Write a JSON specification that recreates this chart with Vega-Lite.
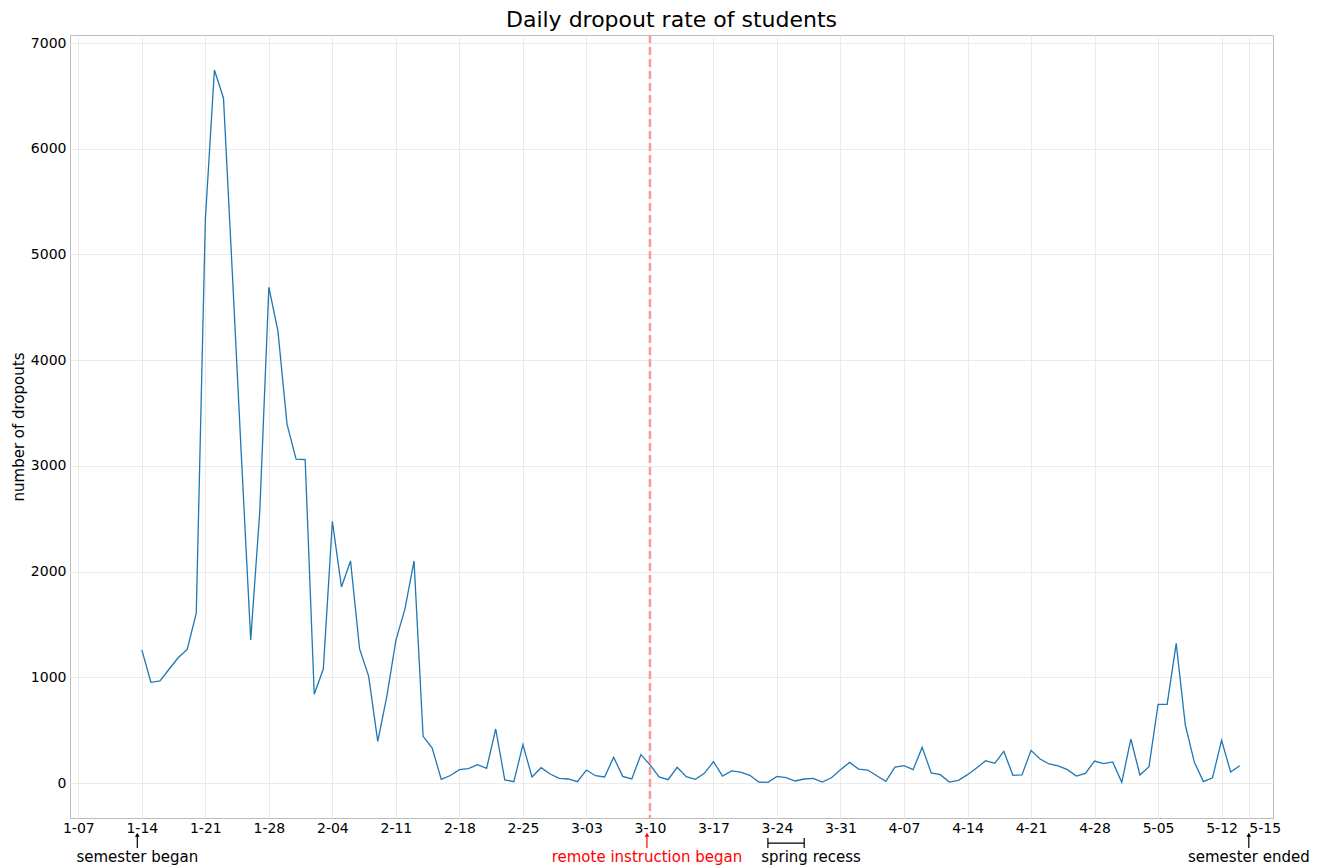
{
  "$schema": "https://vega.github.io/schema/vega-lite/v6.json",
  "autosize": {"type": "none"},
  "padding": {"left": 70, "top": 35, "right": 44, "bottom": 50},
  "width": 1203,
  "height": 783,
  "background": "white",
  "title": {"text": "Daily dropout rate of students", "font": "DejaVu Sans", "fontSize": 22, "fontWeight": "normal", "color": "#000000", "anchor": "middle", "offset": 2},
  "config": {
    "view": {"stroke": "#bcbcbc", "strokeWidth": 1},
    "axis": {"labelFont": "DejaVu Sans", "titleFont": "DejaVu Sans", "labelColor": "#000000", "titleColor": "#000000", "gridColor": "#ebebeb", "gridWidth": 1, "domain": false, "ticks": false}
  },
  "datasets": {
    "dropouts": [
      {"date": "2020-01-14", "dropouts": 1260}, {"date": "2020-01-15", "dropouts": 953}, {"date": "2020-01-16", "dropouts": 967},
      {"date": "2020-01-17", "dropouts": 1076}, {"date": "2020-01-18", "dropouts": 1185}, {"date": "2020-01-19", "dropouts": 1264},
      {"date": "2020-01-20", "dropouts": 1607}, {"date": "2020-01-21", "dropouts": 5330}, {"date": "2020-01-22", "dropouts": 6745},
      {"date": "2020-01-23", "dropouts": 6478}, {"date": "2020-01-24", "dropouts": 4780}, {"date": "2020-01-25", "dropouts": 3040},
      {"date": "2020-01-26", "dropouts": 1354}, {"date": "2020-01-27", "dropouts": 2570}, {"date": "2020-01-28", "dropouts": 4690},
      {"date": "2020-01-29", "dropouts": 4274}, {"date": "2020-01-30", "dropouts": 3395}, {"date": "2020-01-31", "dropouts": 3063},
      {"date": "2020-02-01", "dropouts": 3060}, {"date": "2020-02-02", "dropouts": 839}, {"date": "2020-02-03", "dropouts": 1078},
      {"date": "2020-02-04", "dropouts": 2475}, {"date": "2020-02-05", "dropouts": 1855}, {"date": "2020-02-06", "dropouts": 2101},
      {"date": "2020-02-07", "dropouts": 1268}, {"date": "2020-02-08", "dropouts": 1009}, {"date": "2020-02-09", "dropouts": 394},
      {"date": "2020-02-10", "dropouts": 820}, {"date": "2020-02-11", "dropouts": 1350}, {"date": "2020-02-12", "dropouts": 1647},
      {"date": "2020-02-13", "dropouts": 2101}, {"date": "2020-02-14", "dropouts": 442}, {"date": "2020-02-15", "dropouts": 331},
      {"date": "2020-02-16", "dropouts": 35}, {"date": "2020-02-17", "dropouts": 71}, {"date": "2020-02-18", "dropouts": 126},
      {"date": "2020-02-19", "dropouts": 137}, {"date": "2020-02-20", "dropouts": 173}, {"date": "2020-02-21", "dropouts": 139},
      {"date": "2020-02-22", "dropouts": 511}, {"date": "2020-02-23", "dropouts": 30}, {"date": "2020-02-24", "dropouts": 13},
      {"date": "2020-02-25", "dropouts": 363}, {"date": "2020-02-26", "dropouts": 57}, {"date": "2020-02-27", "dropouts": 145},
      {"date": "2020-02-28", "dropouts": 85}, {"date": "2020-02-29", "dropouts": 44}, {"date": "2020-03-01", "dropouts": 38},
      {"date": "2020-03-02", "dropouts": 13}, {"date": "2020-03-03", "dropouts": 123}, {"date": "2020-03-04", "dropouts": 69},
      {"date": "2020-03-05", "dropouts": 57}, {"date": "2020-03-06", "dropouts": 243}, {"date": "2020-03-07", "dropouts": 63},
      {"date": "2020-03-08", "dropouts": 38}, {"date": "2020-03-09", "dropouts": 268}, {"date": "2020-03-10", "dropouts": 173},
      {"date": "2020-03-11", "dropouts": 57}, {"date": "2020-03-12", "dropouts": 32}, {"date": "2020-03-13", "dropouts": 148},
      {"date": "2020-03-14", "dropouts": 60}, {"date": "2020-03-15", "dropouts": 35}, {"date": "2020-03-16", "dropouts": 91},
      {"date": "2020-03-17", "dropouts": 202}, {"date": "2020-03-18", "dropouts": 66}, {"date": "2020-03-19", "dropouts": 114},
      {"date": "2020-03-20", "dropouts": 104}, {"date": "2020-03-21", "dropouts": 73}, {"date": "2020-03-22", "dropouts": 9},
      {"date": "2020-03-23", "dropouts": 6}, {"date": "2020-03-24", "dropouts": 63}, {"date": "2020-03-25", "dropouts": 50},
      {"date": "2020-03-26", "dropouts": 19}, {"date": "2020-03-27", "dropouts": 38}, {"date": "2020-03-28", "dropouts": 44},
      {"date": "2020-03-29", "dropouts": 9}, {"date": "2020-03-30", "dropouts": 50}, {"date": "2020-03-31", "dropouts": 126},
      {"date": "2020-04-01", "dropouts": 195}, {"date": "2020-04-02", "dropouts": 132}, {"date": "2020-04-03", "dropouts": 123},
      {"date": "2020-04-04", "dropouts": 69}, {"date": "2020-04-05", "dropouts": 16}, {"date": "2020-04-06", "dropouts": 151},
      {"date": "2020-04-07", "dropouts": 164}, {"date": "2020-04-08", "dropouts": 126}, {"date": "2020-04-09", "dropouts": 337},
      {"date": "2020-04-10", "dropouts": 95}, {"date": "2020-04-11", "dropouts": 79}, {"date": "2020-04-12", "dropouts": 9},
      {"date": "2020-04-13", "dropouts": 25}, {"date": "2020-04-14", "dropouts": 79}, {"date": "2020-04-15", "dropouts": 142},
      {"date": "2020-04-16", "dropouts": 211}, {"date": "2020-04-17", "dropouts": 186}, {"date": "2020-04-18", "dropouts": 300},
      {"date": "2020-04-19", "dropouts": 73}, {"date": "2020-04-20", "dropouts": 76}, {"date": "2020-04-21", "dropouts": 309},
      {"date": "2020-04-22", "dropouts": 227}, {"date": "2020-04-23", "dropouts": 180}, {"date": "2020-04-24", "dropouts": 161},
      {"date": "2020-04-25", "dropouts": 126}, {"date": "2020-04-26", "dropouts": 66}, {"date": "2020-04-27", "dropouts": 91},
      {"date": "2020-04-28", "dropouts": 208}, {"date": "2020-04-29", "dropouts": 183}, {"date": "2020-04-30", "dropouts": 199},
      {"date": "2020-05-01", "dropouts": 6}, {"date": "2020-05-02", "dropouts": 416}, {"date": "2020-05-03", "dropouts": 76},
      {"date": "2020-05-04", "dropouts": 155}, {"date": "2020-05-05", "dropouts": 743}, {"date": "2020-05-06", "dropouts": 743},
      {"date": "2020-05-07", "dropouts": 1321}, {"date": "2020-05-08", "dropouts": 551}, {"date": "2020-05-09", "dropouts": 195},
      {"date": "2020-05-10", "dropouts": 13}, {"date": "2020-05-11", "dropouts": 50}, {"date": "2020-05-12", "dropouts": 404},
      {"date": "2020-05-13", "dropouts": 104}, {"date": "2020-05-14", "dropouts": 164}
    ],
    "arrows": [
      {"date": "2020-01-13T12:00:00Z", "kind": "black"},
      {"date": "2020-03-09T16:00:00Z", "kind": "red"},
      {"date": "2020-05-15T00:00:00Z", "kind": "black"}
    ],
    "labels": [
      {"date": "2020-01-13T12:00:00Z", "label": "semester began", "kind": "black"},
      {"date": "2020-03-09T16:00:00Z", "label": "remote instruction began", "kind": "red"},
      {"date": "2020-03-27T18:00:00Z", "label": "spring recess", "kind": "black"},
      {"date": "2020-05-15T00:00:00Z", "label": "semester ended", "kind": "black"}
    ],
    "recess": [
      {"date": "2020-03-23T00:00:00Z", "end": "2020-03-27T00:00:00Z"}
    ],
    "recessEnds": [
      {"date": "2020-03-23T00:00:00Z"},
      {"date": "2020-03-27T00:00:00Z"}
    ],
    "remote": [
      {"date": "2020-03-10T00:00:00Z"}
    ]
  },
  "encoding": {
    "x": {
      "field": "date",
      "type": "temporal",
      "scale": {"type": "utc", "domain": [{"year": 2020, "month": 1, "date": 6, "hours": 2, "utc": true}, {"year": 2020, "month": 5, "date": 17, "hours": 16, "utc": true}]},
      "axis": {
        "title": null,
        "labelExpr": "utcFormat(datum.value, '%-m-%d')",
        "labelFontSize": 14,
        "labelPadding": 3,
        "labelOverlap": false,
        "labelAlign": {"condition": {"test": "utcFormat(datum.value, '%m-%d') == '05-15'", "value": "left"}, "value": "center"},
        "values": [
          {"year": 2020, "month": 1, "date": 7, "utc": true}, {"year": 2020, "month": 1, "date": 14, "utc": true},
          {"year": 2020, "month": 1, "date": 21, "utc": true}, {"year": 2020, "month": 1, "date": 28, "utc": true},
          {"year": 2020, "month": 2, "date": 4, "utc": true}, {"year": 2020, "month": 2, "date": 11, "utc": true},
          {"year": 2020, "month": 2, "date": 18, "utc": true}, {"year": 2020, "month": 2, "date": 25, "utc": true},
          {"year": 2020, "month": 3, "date": 3, "utc": true}, {"year": 2020, "month": 3, "date": 10, "utc": true},
          {"year": 2020, "month": 3, "date": 17, "utc": true}, {"year": 2020, "month": 3, "date": 24, "utc": true},
          {"year": 2020, "month": 3, "date": 31, "utc": true}, {"year": 2020, "month": 4, "date": 7, "utc": true},
          {"year": 2020, "month": 4, "date": 14, "utc": true}, {"year": 2020, "month": 4, "date": 21, "utc": true},
          {"year": 2020, "month": 4, "date": 28, "utc": true}, {"year": 2020, "month": 5, "date": 5, "utc": true},
          {"year": 2020, "month": 5, "date": 12, "utc": true}, {"year": 2020, "month": 5, "date": 15, "utc": true}
        ]
      }
    }
  },
  "layer": [
    {
      "data": {"name": "dropouts"},
      "mark": {"type": "line", "color": "#1f77b4", "strokeWidth": 1.3},
      "encoding": {
        "y": {
          "field": "dropouts",
          "type": "quantitative",
          "scale": {"domain": [-331, 7076], "nice": false, "zero": false},
          "axis": {"title": "number of dropouts", "format": "d", "titleFontSize": 15, "titleFontWeight": "normal", "titlePadding": 4, "labelFontSize": 14, "labelPadding": 4, "values": [0, 1000, 2000, 3000, 4000, 5000, 6000, 7000]}
        }
      }
    },
    {
      "data": {"name": "remote"},
      "mark": {"type": "rule", "color": "#ff9999", "strokeWidth": 2.5, "strokeDash": [8, 4]}
    },
    {
      "data": {"name": "arrows"},
      "mark": {"type": "rule", "strokeWidth": 1.2, "clip": false},
      "encoding": {
        "y": {"datum": -615, "type": "quantitative"},
        "y2": {"datum": -485},
        "color": {"field": "kind", "type": "nominal", "scale": {"domain": ["black", "red"], "range": ["#000000", "#ff0000"]}, "legend": null}
      }
    },
    {
      "data": {"name": "arrows"},
      "mark": {"type": "point", "shape": "triangle-up", "filled": true, "size": 22, "opacity": 1, "clip": false},
      "encoding": {
        "y": {"datum": -490, "type": "quantitative"},
        "color": {"field": "kind", "type": "nominal", "scale": {"domain": ["black", "red"], "range": ["#000000", "#ff0000"]}, "legend": null}
      }
    },
    {
      "data": {"name": "recess"},
      "mark": {"type": "rule", "color": "#000000", "strokeWidth": 1.2, "clip": false},
      "encoding": {
        "x2": {"field": "end"},
        "y": {"datum": -568, "type": "quantitative"}
      }
    },
    {
      "data": {"name": "recessEnds"},
      "mark": {"type": "rule", "color": "#000000", "strokeWidth": 1.2, "clip": false},
      "encoding": {
        "y": {"datum": -520, "type": "quantitative"},
        "y2": {"datum": -615}
      }
    },
    {
      "data": {"name": "labels"},
      "mark": {"type": "text", "font": "DejaVu Sans", "fontSize": 15, "align": "center", "baseline": "middle", "clip": false},
      "encoding": {
        "y": {"datum": -700, "type": "quantitative"},
        "text": {"field": "label"},
        "color": {"field": "kind", "type": "nominal", "scale": {"domain": ["black", "red"], "range": ["#000000", "#ff0000"]}, "legend": null}
      }
    }
  ]
}
